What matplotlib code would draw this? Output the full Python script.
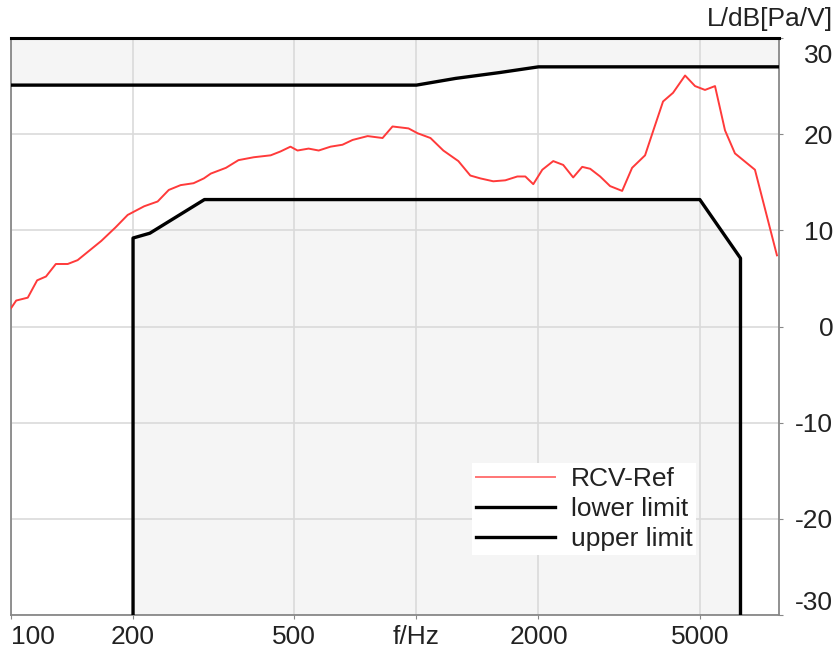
import matplotlib
matplotlib.use('Agg')
import matplotlib.pyplot as plt
from matplotlib.transforms import ScaledTranslation

plt.rcParams['font.family'] = ['Liberation Sans', 'DejaVu Sans']

freq = [100, 103, 110, 116, 122, 129, 138, 146, 167, 181, 194, 213, 230, 245, 262, 282, 299,
        311, 339, 364, 397, 437, 462, 489, 509, 542, 574, 614, 657, 696, 758, 825, 873, 956,
        1006, 1083, 1165, 1269, 1358, 1438, 1547, 1656, 1774, 1856, 1942, 2044, 2175, 2302,
        2436, 2564, 2683, 2839, 3004, 3217, 3404, 3664, 3834, 4058, 4295, 4599, 4867, 5150,
        5451, 5769, 6105, 6839, 7749]
level = [1.9, 2.7, 3.0, 4.8, 5.2, 6.5, 6.5, 6.9, 8.9, 10.3, 11.6, 12.5, 13.0, 14.2, 14.7, 14.9, 15.4,
         15.9, 16.5, 17.3, 17.6, 17.8, 18.2, 18.7, 18.3, 18.5, 18.3, 18.7, 18.9, 19.4, 19.8, 19.6, 20.8, 20.6,
         20.1, 19.6, 18.3, 17.2, 15.7, 15.4, 15.1, 15.2, 15.6, 15.6, 14.8, 16.3, 17.2, 16.8,
         15.5, 16.6, 16.4, 15.6, 14.6, 14.1, 16.5, 17.8, 20.3, 23.4, 24.3, 26.1, 25.0, 24.6,
         25.0, 20.4, 18.0, 16.3, 7.4]

# mask
lower_freq = [200, 200, 220, 300, 5000, 6300, 6300]
lower_level = [-40, 9.2, 9.7, 13.2, 13.2, 7.1, -40]
upper_freq = [90, 1000, 1250, 1600, 2000, 9000]
upper_level = [25.1, 25.1, 25.8, 26.4, 27.0, 27.0]

xticks = [100, 200, 500, 1000, 2000, 5000]
xticklabels = ['100', '200', '500', 'f/Hz', '2000', '5000']
yticks = [30, 20, 10, 0, -10, -20, -30]

fs = 19
fig = plt.figure(figsize=(8.37, 6.53), dpi=100)
ax = fig.add_axes([11 / 837, 1 - 615 / 653, 768 / 837, 577 / 653])

ax.fill(lower_freq, lower_level, facecolor='#f5f5f5', edgecolor='none', zorder=0.2)
ax.fill_between(upper_freq, upper_level, 40, facecolor='#f5f5f5', edgecolor='none', zorder=0.2)

ax.plot(freq, level, color='#ff3a3a', lw=1.4, label='RCV-Ref', zorder=3)
ax.plot(lower_freq, lower_level, color='black', lw=2.4, label='lower limit', zorder=4)
ax.plot(upper_freq, upper_level, color='black', lw=2.4, label='upper limit', zorder=4)

ax.set_xscale('log')
ax.set_xlim(100, 7840)
ax.set_ylim(-30, 30)
ax.set_axisbelow(True)
ax.grid(True, color='#dadada', lw=1.2)
ax.minorticks_off()

ax.set_xticks(xticks)
ax.set_xticklabels(xticklabels, fontsize=fs, color='#222222')
ax.get_xticklabels()[0].set_ha('left')
ax.tick_params(axis='x', length=3, pad=4, color='#888888')

ax.yaxis.tick_right()
ax.set_yticks(yticks)
ax.set_yticklabels([str(v) for v in yticks], fontsize=fs, color='#222222')
ax.tick_params(axis='y', length=3, pad=36, color='#888888')
for t in ax.get_yticklabels():
    t.set_ha('right')
ylabs = ax.get_yticklabels()
ylabs[0].set_va('top')
ylabs[0].set_transform(ylabs[0].get_transform() + ScaledTranslation(0, -0.06, fig.dpi_scale_trans))
ylabs[-1].set_va('bottom')

for s in ['left', 'right', 'bottom']:
    ax.spines[s].set_color('#888888')
    ax.spines[s].set_linewidth(1.3)
ax.spines['top'].set_color('black')
ax.spines['top'].set_linewidth(2.2)

fig.text(833 / 837, 1 - 19 / 653, 'L/dB[Pa/V]', ha='right', va='center', fontsize=fs, color='#222222')

leg = ax.legend(loc='lower left', bbox_to_anchor=(0.600, 0.104), borderaxespad=0,
                fontsize=fs, frameon=True, fancybox=False, framealpha=1, edgecolor='none',
                handlelength=3.0, handletextpad=0.6, labelspacing=0.22, borderpad=0.15)
leg.get_lines()[0].set_alpha(0.7)
for t in leg.get_texts():
    t.set_color('#222222')

fig.savefig('out.png', dpi=100)
